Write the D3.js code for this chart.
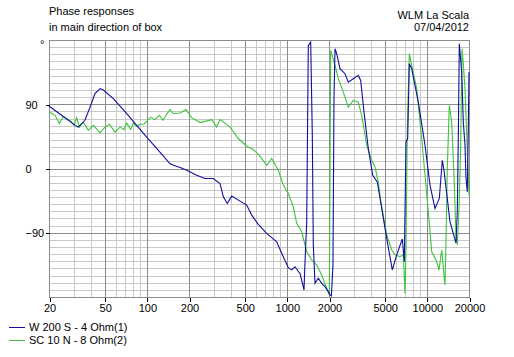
<!DOCTYPE html>
<html>
<head>
<meta charset="utf-8">
<script src="https://cdn.jsdelivr.net/npm/d3@7"></script>
<style>
  html, body { margin: 0; padding: 0; background: #ffffff; }
  svg { display: block; }
  text { font-family: "Liberation Sans", Arial, sans-serif; font-size: 11px; fill: #000; }
</style>
</head>
<body>
<svg id="chart" width="514" height="357"></svg>
<script>
// ---- Data (frequency in Hz, phase in degrees) ----
const seriesNames = ["W 200 S - 4 Ohm(1)", "SC 10 N - 8 Ohm(2)"];
const seriesColors = ["#10109c", "#3cc43c"];

const blueFreq = [20, 24.6, 31.5, 32.4, 36.1, 39.3, 42.6, 46.3, 48.9, 57.6, 71.8, 84.6, 99.7, 124, 146, 155, 173, 193, 227, 260, 298, 333, 352, 375, 404, 450, 517, 561, 625, 718, 846, 919, 1024, 1083, 1143, 1227, 1241, 1326, 1348, 1386, 1423, 1480, 1520, 1545, 1589, 1677, 1774, 1873, 1977, 2033, 2080, 2135, 2170, 2208, 2270, 2396, 2602, 2748, 2982, 3238, 3368, 3557, 3817, 4104, 4426, 4758, 5166, 5664, 6090, 6678, 6902, 7096, 7298, 7492, 7794, 8688, 9702, 10534, 11432, 12272, 12892, 13256, 14632, 16148, 16498, 16774, 17052, 17742, 18212, 18728, 19042, 19450, 19772, 20000];
const bluePhase = [87.5, 74.5, 59, 58, 67.5, 86, 105, 112, 110, 98, 77, 60.5, 44, 23, 7, 4.6, 1.4, -2.4, -9.4, -14, -14, -21, -39.7, -49, -38.7, -44.3, -51.3, -65.3, -78.3, -90.9, -102.6, -118.8, -139, -142, -137.6, -146, -146.8, -170, -130.6, -74.7, 172.4, 177, 46.6, -107, -160.8, -153.8, -160.8, -165.5, -172.5, -177, -178.5, -135, 95.5, 167.8, 160.8, 139.8, 132.8, 121, 125.8, 130.4, 123.4, 79, 28, -9.4, -18.7, -56, -97.9, -142, -121, -98.8, -130.6, 37.2, 42, 146.8, 139.8, 93, 32.6, -23.3, -55.9, -42, 11.6, -2.4, -74.7, -104.5, -60.7, 42, 174.7, 135, 65, 32.6, -14, -32.7, 56, 135];

const greenFreq = [20, 22.1, 23.7, 25.3, 28.3, 30.2, 31.5, 32.9, 35.2, 38.2, 41.5, 46.3, 50.2, 53.9, 59.2, 64.3, 68.7, 71.8, 76.7, 80, 84.6, 89.3, 95.4, 106.5, 114, 123, 130, 146, 155, 173, 190, 209, 240, 291, 315, 333, 393, 450, 517, 576, 643, 718, 779, 869, 943, 1024, 1112, 1176, 1277, 1386, 1505, 1634, 1774, 1926, 2010, 2033, 2056, 2090, 2208, 2330, 2530, 2748, 2982, 3238, 3424, 3718, 4036, 4262, 4500, 4700, 5166, 5610, 5922, 6430, 6788, 6982, 7096, 7250, 7492, 7794, 8462, 9186, 9702, 10244, 10832, 11758, 12210, 12766, 13256, 13476, 13700, 13996, 14466, 15046, 15626, 16148, 16498, 16968, 17450, 17826, 18212, 18728, 19262, 19772, 20000];
const greenPhase = [79, 74.5, 63, 73, 67.5, 60.5, 71.3, 58, 65, 53.5, 60.5, 49.8, 58, 62, 51, 58, 54.5, 63.7, 54.5, 63.7, 59, 62, 62, 72, 68.5, 74.5, 67.5, 82.5, 77, 77.7, 82.5, 71.3, 64.3, 68.5, 58, 68.5, 58, 42, 31.2, 26.6, 17.2, 4.6, 14, -2.4, -23.3, -35, -53.7, -76.9, -88.6, -116.6, -128.2, -135.2, -149.2, -167.8, -177, -9.4, 165.4, 160.8, 144.4, 125.8, 107, 86, 95.5, 93, 74.5, 32.6, 11.6, 2.2, -19, -47, -93, -114, -121, -123.6, -121, -174.8, -111.8, 56, 160.8, 144.4, 111.8, 42, -9.4, -60.7, -116.6, -130.6, -142.2, -114.2, -149.2, -163.2, -102.6, 0, 88.5, 65.1, -9.4, -93.2, -107.2, -56, 32.6, 167.8, 146.8, 111.8, 46.6, -9.4, -37.3];

const xTickValues = [20, 50, 100, 200, 500, 1000, 2000, 5000, 10000, 20000];
const yTickValues = [90, 0, -90];
const titleLines = ["Phase responses", "in main direction of box"];
const infoLines = ["WLM La Scala", "07/04/2012"];

// ---- Layout ----
const L = 49, R = 469, T = 40, B = 297;
const svg = d3.select("#chart");

const x = d3.scaleLog().domain([20, 20000]).range([L, R]);
const y = d3.scaleLinear().domain([-180, 180]).range([B, T]);

// grid: vertical lines
const vLines = [];
for (let dec = 10; dec <= 10000; dec *= 10) {
  for (let m = 1; m <= 9; m++) {
    const f = m * dec;
    if (f >= 20 && f <= 20000) vLines.push(f);
  }
}
vLines.push(20000);
const grid = svg.append("g").attr("shape-rendering", "crispEdges");
grid.selectAll("line.v").data(vLines).enter().append("line")
  .attr("x1", d => Math.round(x(d)) + 0.5).attr("x2", d => Math.round(x(d)) + 0.5)
  .attr("y1", T).attr("y2", B)
  .attr("stroke", d => xTickValues.includes(d) ? "#8c8c8c" : "#c8c8c8")
  .attr("stroke-width", 1);

const hLines = d3.range(-180, 181, 10);
grid.selectAll("line.h").data(hLines).enter().append("line")
  .attr("x1", L).attr("x2", R + 1)
  .attr("y1", d => Math.round(y(d)) + 0.5).attr("y2", d => Math.round(y(d)) + 0.5)
  .attr("stroke", d => d % 90 === 0 ? "#8c8c8c" : "#c8c8c8")
  .attr("stroke-width", 1);

// bring major lines on top
grid.selectAll("line").filter(function() { return d3.select(this).attr("stroke") === "#8c8c8c"; }).raise();

// axes
const xAxis = d3.axisBottom(x).tickValues(xTickValues).tickFormat(d3.format("d")).tickSize(4).tickPadding(3);
const gx = svg.append("g").attr("transform", `translate(0.5,${B + 0.5})`).call(xAxis);
gx.select(".domain").remove();
gx.selectAll(".tick line").attr("stroke", "#000").attr("shape-rendering", "crispEdges");
gx.selectAll(".tick text").attr("font-size", 11).attr("font-family", "Liberation Sans, Arial, sans-serif").attr("fill", "#000");

const yAxis = d3.axisLeft(y).tickValues(yTickValues).tickSize(4).tickPadding(3);
const gy = svg.append("g").attr("transform", `translate(${L + 0.5},0.5)`).call(yAxis);
gy.select(".domain").remove();
gy.selectAll(".tick line").attr("stroke", "#000").attr("shape-rendering", "crispEdges");
gy.selectAll(".tick text").attr("text-anchor", "start").attr("x", -24)
  .attr("font-size", 11).attr("font-family", "Liberation Sans, Arial, sans-serif").attr("fill", "#000");

// degree sign
svg.append("text").attr("x", 40).attr("y", 48).text("°");

// curves
const line = d3.line().x(d => x(d[0])).y(d => y(d[1]));
const blueData = blueFreq.map((f, i) => [f, bluePhase[i]]);
const greenData = greenFreq.map((f, i) => [f, greenPhase[i]]);
svg.append("path").datum(greenData).attr("d", line)
  .attr("fill", "none").attr("stroke", seriesColors[1]).attr("stroke-width", 1.1);
svg.append("path").datum(blueData).attr("d", line)
  .attr("fill", "none").attr("stroke", seriesColors[0]).attr("stroke-width", 1.1);

// titles
svg.selectAll("text.title").data(titleLines).enter().append("text")
  .attr("x", L).attr("y", (d, i) => 15 + i * 16).text(d => d);
svg.selectAll("text.info").data(infoLines).enter().append("text")
  .attr("x", R).attr("y", (d, i) => 19 + i * 12).attr("text-anchor", "end").text(d => d);

// legend
const lg = svg.append("g");
seriesNames.forEach((name, i) => {
  const yy = 327 + i * 13;
  lg.append("line").attr("x1", 9).attr("x2", 25).attr("y1", yy + 0.5).attr("y2", yy + 0.5)
    .attr("stroke", seriesColors[i]).attr("stroke-width", 1).attr("shape-rendering", "crispEdges");
  lg.append("text").attr("x", 29).attr("y", yy + 4).text(name);
});
</script>
</body>
</html>
